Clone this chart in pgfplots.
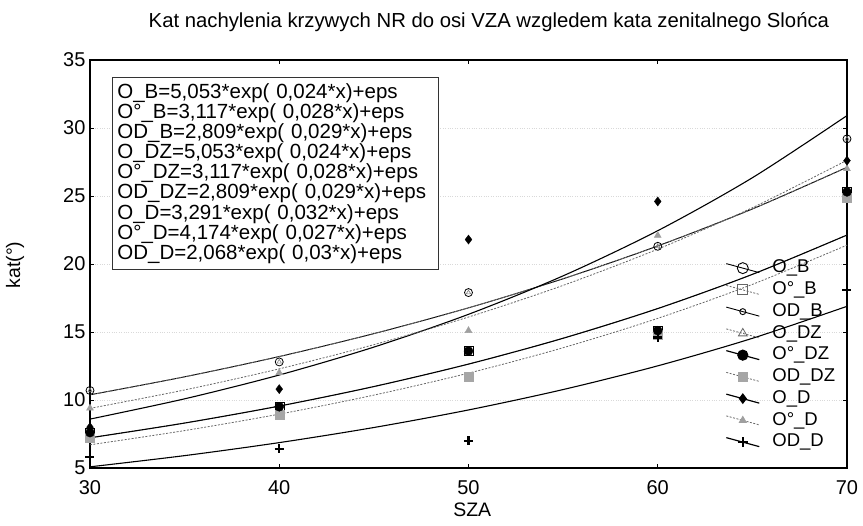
\documentclass[border=0pt]{standalone}
\usepackage{pgfplots}
\pgfplotsset{compat=1.18}
\usepackage{fontspec}
\setmainfont{Liberation Sans}
\begin{document}
\begin{tikzpicture}
\useasboundingbox (-90pt,-58pt) rectangle (773pt,468pt);
\begin{axis}[
  at={(0pt,0pt)}, anchor=south west,
  scale only axis, width=757pt, height=408pt,
  xmin=30, xmax=70, ymin=5, ymax=35,
  clip=false,
  xtick={30,40,50,60,70}, ytick={5,10,15,20,25,30,35},
  /pgf/number format/assume math mode=true,
  tick label style={font=\fontsize{20}{22}\selectfont},
  yticklabel style={xshift=-1pt},
  xticklabel style={yshift=-9pt},
  axis line style={line width=1.3pt},
  tick style={black, line width=0.8pt},
  ymajorgrids, major grid style={gray!30, dotted, line width=0.6pt},
  legend style={draw=none, fill=none, inner sep=0pt, at={(0.8395,0.517)}, anchor=north west,
    font=\fontsize{18.5}{18.5}\selectfont, column sep=11pt,
    nodes={inner sep=1.5pt, text height=14pt, text depth=4.75pt}},
  legend cell align=left,
  legend image code/.code={\draw[mark repeat=2,mark phase=2] plot coordinates {(0pt,4.5pt) (16.5pt,0pt) (33pt,-4.5pt)};},
]
% ---- legend images ----
\addlegendimage{black, line width=0.9pt, mark=o, mark size=5.5pt, mark options={solid, fill=white}}
\addlegendentry{O\_B}
\addlegendimage{black!60, line width=0.8pt, dash pattern=on 2pt off 1.5pt, mark=square, mark size=5pt, mark options={solid, fill=white}}
\addlegendentry{O°\_B}
\addlegendimage{black, line width=0.9pt, mark=o, mark size=3pt, mark options={solid, fill=white}}
\addlegendentry{OD\_B}
\addlegendimage{black!60, line width=0.8pt, dash pattern=on 2pt off 1.5pt, mark=triangle, mark size=5pt, mark options={solid, fill=white}}
\addlegendentry{O\_DZ}
\addlegendimage{black, line width=1.2pt, mark=*, mark size=5pt, mark options={solid}}
\addlegendentry{O°\_DZ}
\addlegendimage{black!60, line width=0.8pt, dash pattern=on 2pt off 1.5pt, mark=square*, mark size=4.5pt, mark options={solid, fill=gray!70, draw=gray!70}}
\addlegendentry{OD\_DZ}
\addlegendimage{black, line width=1.2pt, mark=diamond*, mark size=4.5pt, mark options={solid}}
\addlegendentry{O\_D}
\addlegendimage{black!60, line width=0.8pt, dash pattern=on 2pt off 1.5pt, mark=triangle*, mark size=4pt, mark options={solid, fill=gray!75, draw=gray!75}}
\addlegendentry{O°\_D}
\addlegendimage{black, line width=1.2pt, mark=+, mark size=5pt, mark options={solid, line width=2.2pt}}
\addlegendentry{OD\_D}

% ---- fitted curves (values of the printed equations) ----
% O_B = O_DZ = 5,053*exp(0,024x)
\addplot[forget plot, black, line width=0.9pt, smooth] coordinates {(30,10.381)(35,11.705)(40,13.197)(45,14.880)(50,16.777)(55,18.915)(60,21.327)(65,24.046)(70,27.112)};
\addplot[forget plot, black!60, line width=0.8pt, dash pattern=on 2pt off 1.5pt, smooth] coordinates {(30,10.381)(35,11.705)(40,13.197)(45,14.880)(50,16.777)(55,18.915)(60,21.327)(65,24.046)(70,27.112)};
% O°_B = O°_DZ = 3,117*exp(0,028x)
\addplot[forget plot, black!60, line width=0.8pt, dash pattern=on 2pt off 1.5pt, smooth] coordinates {(30,7.220)(35,8.305)(40,9.553)(45,10.989)(50,12.640)(55,14.540)(60,16.724)(65,19.238)(70,22.129)};
\addplot[forget plot, black, line width=1.1pt, smooth] coordinates {(30,7.220)(35,8.305)(40,9.553)(45,10.989)(50,12.640)(55,14.540)(60,16.724)(65,19.238)(70,22.129)};
% OD_B = OD_DZ = 2,809*exp(0,029x)
\addplot[forget plot, black!60, line width=0.8pt, dash pattern=on 2pt off 1.5pt, smooth] coordinates {(30,6.705)(35,7.751)(40,8.961)(45,10.359)(50,11.975)(55,13.843)(60,16.004)(65,18.501)(70,21.388)};
% O_D = 3,291*exp(0,032x)
\addplot[forget plot, black, line width=1.1pt, smooth] coordinates {(30,8.595)(35,10.086)(40,11.837)(45,13.890)(50,16.300)(55,19.129)(60,22.448)(65,26.343)(70,30.913)};
% O°_D = 4,174*exp(0,027x)
\addplot[forget plot, black!60, line width=0.8pt, dash pattern=on 2pt off 1.5pt, smooth] coordinates {(30,9.383)(35,10.739)(40,12.291)(45,14.068)(50,16.101)(55,18.428)(60,21.092)(65,24.140)(70,27.629)};
% OD_D = 2,068*exp(0,03x)
\addplot[forget plot, black, line width=1.1pt, smooth] coordinates {(30,5.086)(35,5.910)(40,6.866)(45,7.977)(50,9.268)(55,10.768)(60,12.511)(65,14.535)(70,16.888)};

% ---- observed points ----
% O_B (open circle)
\addplot[forget plot, only marks, mark=o, mark size=4pt, mark options={black, fill=white, line width=0.8pt}] coordinates {(30,10.7)(40,12.8)(50,17.9)(60,21.3)(70,29.2)};
% O_DZ (open triangle)
\addplot[forget plot, only marks, mark=triangle, mark size=2.5pt, mark options={gray, line width=0.6pt}] coordinates {(30,10.7)(40,12.8)(50,17.9)(60,21.3)(70,29.2)};
% O°_B (open square)
\addplot[forget plot, only marks, mark=square, mark size=4.5pt, mark options={black, fill=white}] coordinates {(30,7.6)(40,9.5)(50,13.6)(60,15.1)(70,25.3)};
% OD_B (small open circle)
\addplot[forget plot, only marks, mark=o, mark size=3pt, mark options={black, fill=white}] coordinates {(30,7.2)(40,8.9)(50,11.7)(60,14.8)(70,24.9)};
% OD_DZ (grey square)
\addplot[forget plot, only marks, mark=square*, mark size=4.5pt, mark options={fill=gray!70, draw=gray!70}] coordinates {(30,7.2)(40,8.9)(50,11.7)(60,14.8)(70,24.9)};
% O°_DZ (filled circle)
\addplot[forget plot, only marks, mark=*, mark size=4.5pt, mark options={black}] coordinates {(30,7.6)(40,9.5)(50,13.6)(60,15.1)(70,25.3)};
% O_D (filled diamond)
\addplot[forget plot, only marks, mark=diamond*, mark size=4.5pt, mark options={black}] coordinates {(30,8.0)(40,10.8)(50,21.8)(60,24.6)(70,27.6)};
% O°_D (grey triangle)
\addplot[forget plot, only marks, mark=triangle*, mark size=4pt, mark options={fill=gray!75, draw=gray!75}] coordinates {(30,9.4)(40,12.0)(50,15.1)(60,22.1)(70,27.0)};
% OD_D (plus)
\addplot[forget plot, only marks, mark=+, mark size=4.5pt, mark options={black, line width=2.2pt}] coordinates {(30,5.8)(40,6.4)(50,7.0)(60,14.6)(70,18.1)};

% ---- equations box ----
\node[draw=black!80, line width=0.8pt, fill=white, anchor=north west, inner xsep=5pt, inner ysep=6pt,
      minimum width=326pt, text width=316pt, align=left, font=\fontsize{20.5}{18.8}\selectfont]
  at (rel axis cs:0.029,0.958) {%
  O\_B=5,053*exp( 0,024*x)+eps\\
  O°\_B=3,117*exp( 0,028*x)+eps\\
  OD\_B=2,809*exp( 0,029*x)+eps\\
  O\_DZ=5,053*exp( 0,024*x)+eps\\
  O°\_DZ=3,117*exp( 0,028*x)+eps\\
  OD\_DZ=2,809*exp( 0,029*x)+eps\\
  O\_D=3,291*exp( 0,032*x)+eps\\
  O°\_D=4,174*exp( 0,027*x)+eps\\
  OD\_D=2,068*exp( 0,03*x)+eps};

% ---- title and axis labels ----
\node[font=\fontsize{20.3}{22}\selectfont, anchor=center] at (rel axis cs:0.527,1) [yshift=38pt] {Kat nachylenia krzywych NR do osi VZA wzgledem kata zenitalnego Slońca};
\node[font=\fontsize{19.5}{21}\selectfont, anchor=center] at (rel axis cs:0.505,0) [yshift=-42pt] {SZA};
\node[font=\fontsize{19.5}{21}\selectfont, anchor=center, rotate=90] at (rel axis cs:-0.0991,0.4975) {kat(°)};
\end{axis}
\end{tikzpicture}
\end{document}
